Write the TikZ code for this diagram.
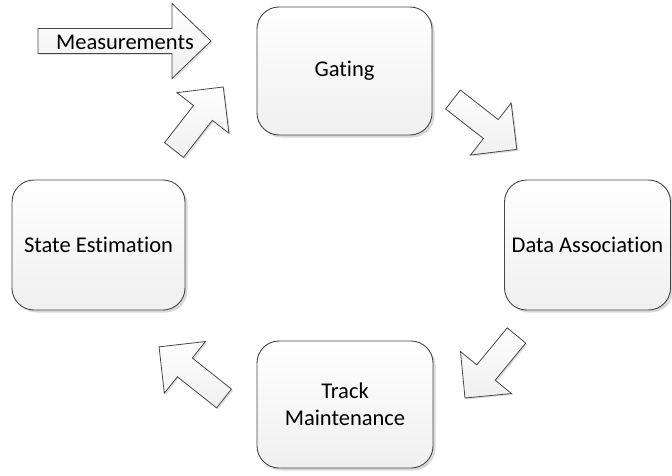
\documentclass[tikz,border=0pt]{standalone}
\usepackage{fontspec}
\setmainfont{Carlito}[Ligatures=NoCommon]
\usetikzlibrary{shadows}

% seta larga: posicao da cauda, angulo, comprimento, ponta, meia largura do corpo, meia largura da ponta
\newcommand{\seta}[6]{%
  \draw[setaestilo, shift={(#1)}, rotate=#2]
    (0,-#5) -- (#3-#4,-#5) -- (#3-#4,-#6) -- (#3,0) -- (#3-#4,#6)
    -- (#3-#4,#5) -- (0,#5) -- cycle;
}

\begin{document}
\begin{tikzpicture}[x=1pt, y=1pt,
    caixa/.style={draw=black!72, line width=0.9pt, rounded corners=22pt,
        top color=white, bottom color=black!6, align=center,
        font=\fontsize{22.5}{27}\selectfont,
        drop shadow={shadow xshift=2.5pt, shadow yshift=-2.5pt, opacity=0.3}},
    setaestilo/.style={draw=black!72, line width=0.8pt, line join=miter,
        top color=white, bottom color=black!6,
        drop shadow={shadow xshift=1.5pt, shadow yshift=-1.5pt, opacity=0.25}}
]
    \useasboundingbox (0,0) rectangle (672,475);
    % Caixas
    \node[caixa, minimum width=175pt, minimum height=128pt] (gating) at (344.5,404) {Gating};
    \node[caixa, minimum width=166pt, minimum height=130pt] (assoc) at (587.5,230) {Data Association};
    \node[caixa, minimum width=176pt, minimum height=127pt] (track) at (345,70.5) {Track\\Maintenance};
    \node[caixa, minimum width=173pt, minimum height=130pt] (state) at (98.5,230) {State Estimation};
    % Setas
    \seta{174,325}{52}{80}{33}{12}{33}
    \seta{453,375.5}{-38}{81}{33}{12}{33}
    \seta{516.5,139.5}{230.5}{81}{33}{12}{33}
    \seta{224,76.5}{141.5}{83}{33}{12}{33}
    % Entrada
    \seta{38,434}{0}{173}{39}{12.5}{37.5}
    \node[font=\fontsize{22.5}{27}\selectfont] (meas) at (125,433) {Measurements};
\end{tikzpicture}
\end{document}
